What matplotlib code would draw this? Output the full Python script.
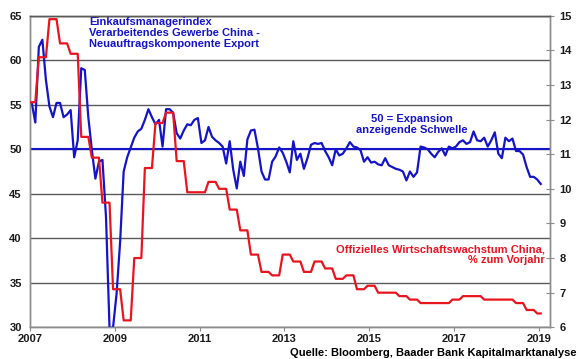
import numpy as np
import pandas as pd
import matplotlib
matplotlib.use("Agg")
import matplotlib.pyplot as plt

plt.rcParams["font.family"] = ["Liberation Sans", "DejaVu Sans"]
plt.rcParams["font.weight"] = "bold"

BLUE = "#1414C8"
RED = "#E8141E"
GRID = "#5A5A5A"
SPINE = "#8C8C8C"
TICK_TXT = "#1a1a1a"

# PMI manufacturing China, new export orders (monthly, from Jan 2007)
pmi_start = "2007-01"
pmi_export = [
    55.2, 53.0, 61.5, 62.3, 57.8, 54.8, 53.6, 55.2, 55.2, 53.6, 53.9, 54.4,  # 2007
    49.1, 51.0, 59.1, 58.9, 53.6, 49.9, 46.7, 48.6, 48.8, 42.4, 29.9, 30.0,  # 2008
    33.8, 39.6, 47.5, 49.1, 50.2, 51.3, 52.0, 52.3, 53.3, 54.5, 53.6, 52.8,  # 2009
    53.3, 50.3, 54.5, 54.5, 54.1, 51.8, 51.2, 52.1, 52.8, 52.7, 53.3, 53.5,  # 2010
    50.7, 51.0, 52.5, 51.4, 51.0, 50.7, 50.3, 48.4, 50.9, 47.7, 45.6, 48.6,  # 2011
    47.0, 51.1, 52.1, 52.2, 50.1, 47.5, 46.6, 46.6, 48.6, 49.2, 50.2, 49.6,  # 2012
    48.6, 47.4, 50.9, 48.8, 49.5, 47.8, 49.0, 50.5, 50.7, 50.6, 50.7, 49.8,  # 2013
    49.1, 48.2, 50.0, 49.3, 49.5, 50.1, 50.8, 50.3, 50.2, 49.9, 48.6, 49.1,  # 2014
    48.5, 48.6, 48.3, 48.2, 49.0, 48.2, 48.0, 47.8, 47.7, 47.5, 46.5, 47.5,  # 2015
    46.9, 47.4, 50.3, 50.2, 50.0, 49.5, 49.1, 49.7, 50.1, 49.3, 50.3, 50.1,  # 2016
    50.3, 50.8, 51.0, 50.6, 50.8, 52.0, 51.0, 50.9, 51.3, 50.3, 51.0, 51.9,  # 2017
    49.5, 49.0, 51.3, 50.9, 51.2, 49.8, 49.8, 49.4, 48.0, 46.9, 46.9, 46.6,  # 2018
    46.1,                                                                    # 2019
]

# official GDP growth China, % y/y (quarterly, from Q4 2006)
gdp_start = "2006Q4"
gdp_growth = [
    12.5,
    13.8, 14.9, 14.2, 13.9,   # 2007
    11.5, 10.9, 9.6, 7.1,     # 2008
    6.2, 8.0, 10.6, 11.9,     # 2009
    12.2, 10.8, 9.9, 9.9,     # 2010
    10.2, 10.0, 9.4, 8.8,     # 2011
    8.1, 7.6, 7.5, 8.1,       # 2012
    7.9, 7.6, 7.9, 7.7,       # 2013
    7.4, 7.5, 7.1, 7.2,       # 2014
    7.0, 7.0, 6.9, 6.8,       # 2015
    6.7, 6.7, 6.7, 6.8,       # 2016
    6.9, 6.9, 6.8, 6.8,       # 2017
    6.8, 6.7, 6.5, 6.4,       # 2018
]

left_ticks = [30, 35, 40, 45, 50, 55, 60, 65]
right_ticks = [6, 7, 8, 9, 10, 11, 12, 13, 14, 15]
year_ticks = [2007, 2009, 2011, 2013, 2015, 2017, 2019]

# monthly positions as decimal years (mid-month)
months = pd.period_range(pmi_start, periods=len(pmi_export), freq="M")
pmi_x = months.year + (months.month - 0.5) / 12

# quarterly value held from quarter-end month for three months
quarters = pd.period_range(gdp_start, periods=len(gdp_growth), freq="Q")
q_end = quarters.asfreq("M", how="end")
q_from = np.asarray(q_end.year + (q_end.month - 0.5) / 12)
q_to = np.minimum(q_from + 2 / 12, pmi_x[-1])
gdp_x = np.column_stack([q_from, q_to]).ravel()
gdp_y = np.repeat(gdp_growth, 2)

fig = plt.figure(figsize=(5.8, 3.59), dpi=100, facecolor="white")
ax = fig.add_axes([30 / 580, 1 - 327.3 / 359, 520 / 580, 311.6 / 359])
ax2 = ax.twinx()

ax.set_xlim(2007, 2019.26)
ax.set_ylim(30, 65)
ax2.set_ylim(6, 15)

ax.set_yticks(left_ticks)
ax.set_xticks(year_ticks)
ax2.set_yticks(right_ticks)

ax.yaxis.grid(True, color=GRID, lw=1.0, zorder=0)
ax.set_axisbelow(True)

ax.plot(pmi_x, pmi_export, color=BLUE, lw=1.6, zorder=3)
ax.axhline(50, color=BLUE, lw=1.5, zorder=2)
ax2.plot(gdp_x, gdp_y, color=RED, lw=1.6, zorder=3)

ax.tick_params(axis="y", length=0, pad=6, labelsize=8, labelcolor=TICK_TXT)
ax.tick_params(axis="x", direction="out", length=3, color=SPINE, pad=2,
               labelsize=8, labelcolor=TICK_TXT)
ax2.tick_params(axis="y", direction="inout", length=6, color=SPINE, pad=4,
                labelsize=8, labelcolor=TICK_TXT)

for a in (ax, ax2):
    for side, spine in a.spines.items():
        spine.set_color(GRID if side == "top" else SPINE)
        spine.set_linewidth(1.0)

ax.text(0.1135, 0.995,
        "Einkaufsmanagerindex\nVerarbeitendes Gewerbe China -\nNeuauftragskomponente Export",
        transform=ax.transAxes, ha="left", va="top", color=BLUE,
        fontsize=8, fontweight="bold", linespacing=1.1)
ax.text(0.7346, 0.651, "50 = Expansion\nanzeigende Schwelle",
        transform=ax.transAxes, ha="center", va="center", color=BLUE,
        fontsize=8, fontweight="bold", multialignment="center", linespacing=1.1)
ax.text(0.990, 0.232, "Offizielles Wirtschaftswachstum China,\n% zum Vorjahr",
        transform=ax.transAxes, ha="right", va="center", color=RED,
        fontsize=8, fontweight="bold", multialignment="right", linespacing=1.1)

fig.text(0.9948, 0.018, "Quelle: Bloomberg, Baader Bank Kapitalmarktanalyse",
         ha="right", va="center", color="black", fontsize=8, fontweight="bold")

fig.savefig("out.png", dpi=100, facecolor="white")
